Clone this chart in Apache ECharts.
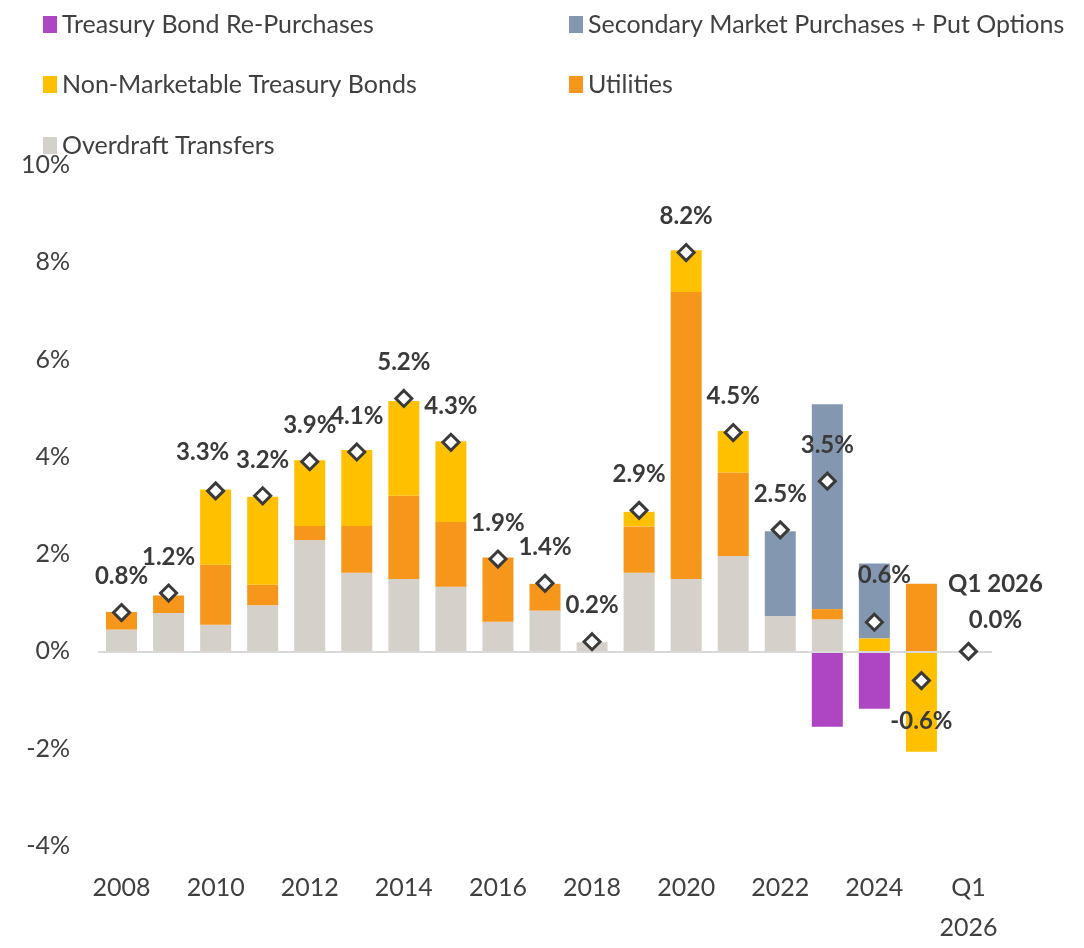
<!DOCTYPE html>
<html lang="en">
<head>
<meta charset="UTF-8">
<title>Funding sources</title>
<script src="https://cdn.jsdelivr.net/npm/echarts@6/dist/echarts.min.js"></script>
<style>
    html, body { margin: 0; padding: 0; background: #fff; width: 100%; height: 100%; overflow: hidden; }
    #main { width: 100vw; height: 100vh; }
</style>
</head>
<body>
<div id="main"></div>
<script type="text/javascript">
    // categories (years) and series values, in % of GDP
    var years = ['2008','2009','2010','2011','2012','2013','2014','2015','2016','2017',
                 '2018','2019','2020','2021','2022','2023','2024','2025','Q1 2026'];
    var overdraft     = [0.45,0.79,0.55,0.95,2.29,1.62,1.49,1.33,0.61,0.84,0.19,1.62,1.49,1.96,0.73,0.66,0,0,0];
    var utilities     = [0.36,0.36,1.23,0.42,0.29,0.96,1.71,1.33,1.32,0.55,0,0.95,5.90,1.72,0,0.21,0,1.39,0];
    var nonMarketable = [0,0,1.55,1.81,1.35,1.56,1.95,1.66,0,0,0,0.30,0.86,0.85,0,0,0.27,-2.06,0];
    var secondary     = [0,0,0,0,0,0,0,0,0,0,0,0,0,0,1.74,4.21,1.54,0,0];
    var repurchases   = [0,0,0,0,0,0,0,0,0,0,0,0,0,0,0,-1.55,-1.18,0,0];
    var totals        = [0.8,1.2,3.3,3.2,3.9,4.1,5.2,4.3,1.9,1.4,0.2,2.9,8.2,4.5,2.5,3.5,0.6,-0.6,0.0];

    var FONT = 'Lato, "Open Sans", sans-serif';
    var TXT = '#3a3a3a';

    var myChart = echarts.init(document.getElementById('main'));
    window.onresize = function () {
        myChart.resize();
    };

    // label tweaks for a few points that sit off-centre in the original
    var totalData = totals.map(function (v, i) {
        var item = { value: v };
        if (i === 2) item.label = { offset: [-13, -39] };
        if (i === 16) item.label = { offset: [10, -47] };
        if (i === 17) item.label = { offset: [0, 41] };
        if (i === 18) item.label = {
            offset: [27, -49],
            formatter: years[i] + '\n' + v.toFixed(1) + '%'
        };
        return item;
    });

    function legendAt(name, left, top) {
        return {
            data: [name],
            left: left,
            top: top,
            icon: 'rect',
            itemWidth: 14,
            itemHeight: 17,
            itemGap: 0,
            selectedMode: false,
            textStyle: { fontFamily: FONT, fontSize: 25, color: '#404040' }
        };
    }

    function barSeries(name, data, color) {
        return {
            name: name,
            type: 'bar',
            stack: 'total',
            barWidth: 31,
            data: data,
            itemStyle: { color: color }
        };
    }

    var option = {
        animation: false,
        textStyle: { fontFamily: FONT },
        legend: [
            legendAt('Treasury Bond Re-Purchases', 38, 7),
            legendAt('Secondary Market Purchases + Put Options', 564, 7),
            legendAt('Non-Marketable Treasury Bonds', 38, 67),
            legendAt('Utilities', 564, 67),
            legendAt('Overdraft Transfers', 38, 128)
        ],
        grid: { left: 98, right: 92, top: 165, bottom: 91, containLabel: false },
        xAxis: {
            type: 'category',
            data: years,
            axisLine: { show: false },
            axisTick: { show: false },
            axisLabel: {
                interval: 1,
                margin: 22,
                fontSize: 25,
                lineHeight: 40,
                color: '#404040',
                fontFamily: FONT,
                formatter: function (v) { return v.replace(' ', '\n'); }
            }
        },
        yAxis: {
            type: 'value',
            min: -4,
            max: 10,
            interval: 2,
            splitLine: { show: false },
            axisLine: { show: false },
            axisTick: { show: false },
            axisLabel: {
                margin: 28,
                fontSize: 25,
                color: '#404040',
                fontFamily: FONT,
                formatter: '{value}%'
            }
        },
        series: [
            Object.assign(barSeries('Overdraft Transfers', overdraft, '#D6D0CA'), {
                markLine: {
                    silent: true,
                    symbol: 'none',
                    label: { show: false },
                    lineStyle: { color: '#D9D9D9', width: 2, type: 'solid' },
                    data: [{ yAxis: 0 }]
                }
            }),
            barSeries('Utilities', utilities, '#F6961A'),
            barSeries('Non-Marketable Treasury Bonds', nonMarketable, '#FFC000'),
            barSeries('Secondary Market Purchases + Put Options', secondary, '#8497B0'),
            barSeries('Treasury Bond Re-Purchases', repurchases, '#AE45C2'),
            {
                name: 'Total',
                type: 'scatter',
                data: totalData,
                symbol: 'diamond',
                symbolSize: 16,
                z: 10,
                itemStyle: { color: '#fff', borderColor: '#3a3a3a', borderWidth: 3, opacity: 1 },
                label: {
                    show: true,
                    position: 'inside',
                    offset: [0, -36],
                    fontSize: 24,
                    lineHeight: 36,
                    fontWeight: 'bold',
                    color: TXT,
                    fontFamily: FONT,
                    formatter: function (p) { return p.value.toFixed(1) + '%'; }
                }
            }
        ]
    };

    myChart.setOption(option);
</script>
</body>
</html>
